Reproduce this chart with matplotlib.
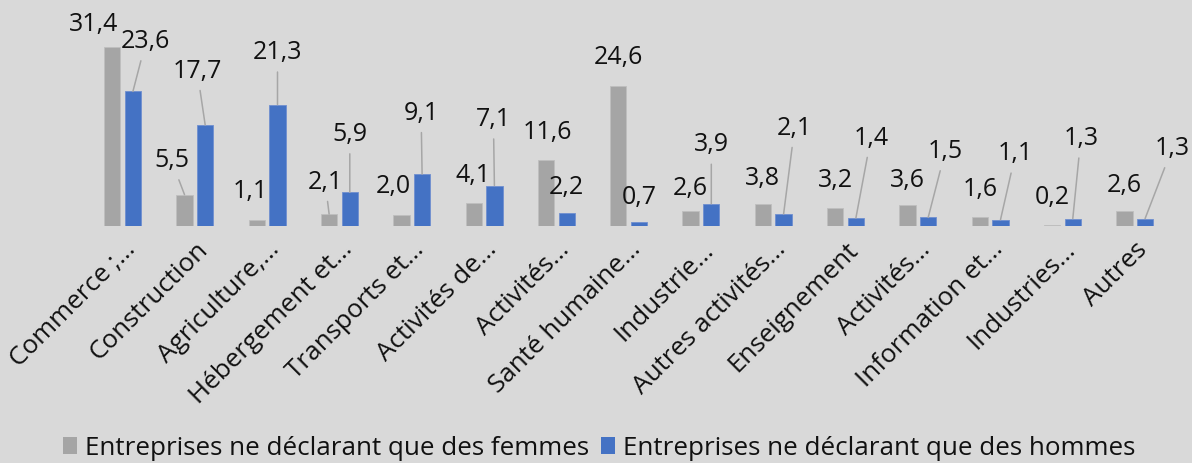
import numpy as np
import matplotlib
matplotlib.use("Agg")
import matplotlib.pyplot as plt
from matplotlib.patches import Patch

plt.rcParams['font.family'] = ['Open Sans', 'DejaVu Sans']

# Data
categories = ["Commerce ;…", "Construction", "Agriculture,…", "Hébergement et…",
              "Transports et…", "Activités de…", "Activités…", "Santé humaine…",
              "Industrie…", "Autres activités…", "Enseignement", "Activités…",
              "Information et…", "Industries…", "Autres"]
femmes = [31.4, 5.5, 1.1, 2.1, 2.0, 4.1, 11.6, 24.6, 2.6, 3.8, 3.2, 3.6, 1.6, 0.2, 2.6]
hommes = [23.6, 17.7, 21.3, 5.9, 9.1, 7.1, 2.2, 0.7, 3.9, 2.1, 1.4, 1.5, 1.1, 1.3, 1.3]
series_names = ["Entreprises ne déclarant que des femmes",
                "Entreprises ne déclarant que des hommes"]

# Label placement (pixel offsets from bar top) and leader lines
femmes_dx = [-19, -13, -7, -4, -8, -1, 1, 0, 0, 0, 0, 0, 0, 0, 0]
femmes_dy = [23, 34, 28, 32, 28, 27, 27, 28, 23, 26, 27, 25, 27, 27, 26]
femmes_leader = [False, True, False, True, False, False, False, False,
                 False, False, False, False, False, False, False]
hommes_dx = [13, -8, 0, 0, -1, -1, 0, 0, 0, 11, 15, 17, 15, 8, 27]
hommes_dy = [50, 54, 52, 58, 61, 66, 26, 25, 59, 86, 80, 66, 66, 80, 70]
hommes_leader = [True, True, True, True, True, True, False, False,
                 True, True, True, True, True, True, True]

BG = '#D9D9D9'
GRAY = '#A5A5A5'
BLUE = '#4472C4'
LEADER = '#A6A6A6'
FS = 18
FS_TXT = 18.7

fig = plt.figure(figsize=(11.92, 4.63), dpi=100, facecolor=BG)
ax = fig.add_axes([0.0725, 0.5119, 0.9098, 0.4881])
ax.set_facecolor(BG)

x = np.arange(len(categories))
w = 0.225
off = 0.143
ax.bar(x - off, femmes, w, color=GRAY, edgecolor='#BFBFBF', linewidth=0.6)
ax.bar(x + off, hommes, w, color=BLUE, edgecolor='#6F8FD0', linewidth=0.6)

ax.set_xlim(-0.5, len(categories) - 0.5)
ax.set_ylim(0, 39.65)


def fmt(v):
    return f"{v:.1f}".replace('.', ',')


def add_labels(xs, vals, dxs, dys, leaders):
    for xi, v, dx, dy, lead in zip(xs, vals, dxs, dys, leaders):
        props = None
        if lead:
            props = dict(arrowstyle='-', color=LEADER, lw=1.1,
                         shrinkA=3, shrinkB=0)
        ax.annotate(fmt(v), xy=(xi, v), xytext=(dx, dy),
                    textcoords='offset pixels', ha='center', va='center',
                    fontsize=FS, color='#111111', arrowprops=props,
                    annotation_clip=False)


add_labels(x - off, femmes, femmes_dx, femmes_dy, femmes_leader)
add_labels(x + off, hommes, hommes_dx, hommes_dy, hommes_leader)

# Category labels, rotated like Excel
ax.set_xticks(x)
ax.set_xticklabels(categories, rotation=45, ha='right', va='top',
                   rotation_mode='anchor', fontsize=FS_TXT, color='#111111')
ax.tick_params(axis='x', length=0, pad=8)
ax.set_yticks([])
for s in ax.spines.values():
    s.set_visible(False)

handles = [Patch(facecolor=GRAY, edgecolor='none'),
           Patch(facecolor=BLUE, edgecolor='none')]
fig.legend(handles, series_names, loc='center', bbox_to_anchor=(0.5025, 0.032),
           ncol=2, frameon=False, fontsize=FS_TXT, handlelength=0.55,
           handleheight=0.65, handletextpad=0.3, columnspacing=0.45,
           borderpad=0, labelcolor='#111111')

fig.savefig('out.png', dpi=100, facecolor=BG)
